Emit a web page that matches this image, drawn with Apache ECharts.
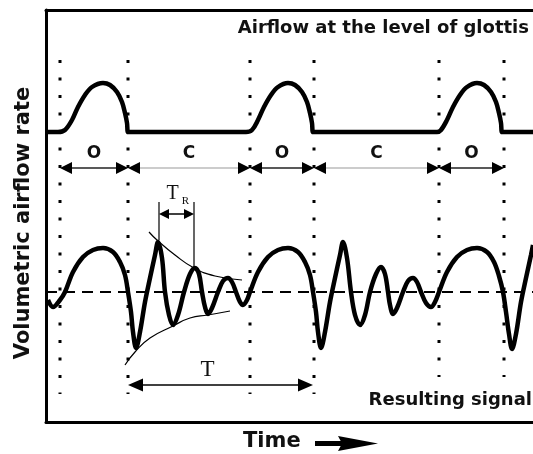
<!DOCTYPE html>
<html>
<head>
<meta charset="utf-8">
<script src="https://cdn.jsdelivr.net/npm/echarts@6/dist/echarts.min.js"></script>
<style>
  html, body { margin: 0; padding: 0; background: #fff; }
  #chart { width: 533px; height: 454px; }
</style>
</head>
<body>
<div id="chart"></div>
<script>
// time and amplitude in arbitrary units (schematic)
const glottalFlow = [
  [0, 290], [12, 290], [19, 292], [26, 302], [32, 315], [39, 327], [46, 335], [57, 339], [64, 337], [71, 330], [76, 320], [79, 309], [81, 299], [82, 290], [84, 290],
  [200, 290], [206, 292], [212, 302], [218, 315], [225, 327], [232, 335], [242, 339], [249, 337], [256, 330], [261, 320], [264, 309], [266, 299], [267, 290], [269, 290],
  [391, 290], [395, 292], [401, 302], [407, 315], [414, 327], [421, 335], [431, 339], [438, 337], [445, 330], [450, 320], [453, 309], [455, 299], [456, 290], [458, 290],
  [487, 290]
];

const resultingSignal = [
  [2, 122], [7, 115], [14, 122],
  [19, 130], [27, 150], [37, 165], [47, 172], [57, 174], [67, 170], [74, 160], [79, 147], [82, 130], [85, 110], [87, 90],
  [90, 74], [94, 90], [99, 120], [104, 144], [109, 167], [112, 180], [116, 164], [119, 130], [123, 107], [127, 97],
  [132, 107], [138, 130], [144, 148], [149, 154], [153, 148], [156, 130], [159, 115], [162, 108], [166, 114], [172, 130],
  [177, 141], [182, 144], [186, 140], [190, 130], [194, 120], [197, 117], [201, 122], [204, 130],
  [212, 150], [222, 165], [232, 172], [242, 174], [252, 170], [259, 160], [264, 147], [267, 130], [270, 110], [272, 90],
  [275, 74], [279, 90], [284, 120], [289, 144], [294, 167], [297, 180], [301, 164], [305, 130], [309, 107], [314, 97],
  [319, 107], [324, 130], [330, 148], [335, 155], [339, 148], [342, 130], [344, 117], [347, 108], [351, 114], [357, 130],
  [362, 141], [367, 144], [371, 140], [375, 130], [380, 119], [385, 115], [389, 120], [393, 130],
  [401, 150], [411, 165], [421, 172], [431, 174], [441, 170], [448, 160], [453, 146], [457, 130], [460, 110], [463, 88],
  [466, 73], [470, 88], [475, 120], [480, 144], [485, 167], [487, 177]
];

const baselineLevel = 130;
const envelopeUpper = [[103, 190], [111, 182], [129, 167], [148, 154], [169, 146], [196, 142]];
const envelopeLower = [[79, 57], [89, 70], [104, 84], [127, 96], [144, 104], [162, 107], [184, 111]];

const phaseEdges = [14, 82, 204, 268, 393, 458];
const phaseNames = ['O', 'C', 'O', 'C', 'O'];
const phaseArrowLevel = 254;
const phaseLabelLevel = 268;

const dotTop = 362;
const dotBottoms = [28, 28, 28, 28, 45, 45];

const trStart = 113, trEnd = 148;
const trTop = 220, trArrowLevel = 208;
const trPeaks = [182, 154];

const periodStart = 82, periodEnd = 267, periodLevel = 37, periodLabelLevel = 52;

const chart = echarts.init(document.getElementById('chart'));

function arrowShapes(p1, p2, len, half, color, width) {
  return [
    { type: 'line', shape: { x1: p1[0] + len * 0.5, y1: p1[1], x2: p2[0] - len * 0.5, y2: p2[1] },
      style: { stroke: color, lineWidth: width } },
    { type: 'polygon', shape: { points: [[p1[0], p1[1]], [p1[0] + len, p1[1] - half], [p1[0] + len, p1[1] + half]] },
      style: { fill: '#000' } },
    { type: 'polygon', shape: { points: [[p2[0], p2[1]], [p2[0] - len, p2[1] - half], [p2[0] - len, p2[1] + half]] },
      style: { fill: '#000' } }
  ];
}

const boldFont = '"DejaVu Sans", sans-serif';
const serifFont = '"Liberation Serif", "DejaVu Serif", serif';

const option = {
  animation: false,
  grid: { left: 46, right: 0, top: 10, bottom: 32 },
  title: [
    { text: 'Airflow at the level of glottis', right: 4, top: 19, padding: 0,
      textStyle: { fontFamily: boldFont, fontWeight: 'bold', fontSize: 18, color: '#111' } },
    { text: 'Resulting signal', right: 1, top: 391, padding: 0,
      textStyle: { fontFamily: boldFont, fontWeight: 'bold', fontSize: 18, color: '#111' } }
  ],
  xAxis: [
    { type: 'value', min: 0, max: 487, position: 'bottom',
      axisLine: { onZero: false, lineStyle: { color: '#000', width: 3 } },
      axisTick: { show: false }, axisLabel: { show: false }, splitLine: { show: false } },
    { type: 'value', min: 0, max: 487, position: 'top',
      axisLine: { onZero: false, lineStyle: { color: '#000', width: 3 } },
      axisTick: { show: false }, axisLabel: { show: false }, splitLine: { show: false } }
  ],
  yAxis: {
    type: 'value', min: 0, max: 412,
    name: 'Volumetric airflow rate', nameLocation: 'middle', nameGap: 12,
    nameTextStyle: { fontFamily: boldFont, fontWeight: 'bold', fontSize: 21, color: '#111', padding: [0, 14, 0, 0] },
    axisLine: { show: true, onZero: false, lineStyle: { color: '#000', width: 3 } },
    axisTick: { show: false }, axisLabel: { show: false }, splitLine: { show: false }
  },
  graphic: [
    { type: 'text', left: 243, top: 431,
      style: { text: 'Time', font: 'bold 21px ' + boldFont, fill: '#111' } },
    { type: 'rect', shape: { x: 315, y: 441, width: 28, height: 5 }, style: { fill: '#000' } },
    { type: 'polygon', shape: { points: [[338, 436], [378, 443.5], [338, 451], [342, 443.5]] }, style: { fill: '#000' } }
  ],
  series: [
    {
      type: 'custom', name: 'phase boundaries',
      data: phaseEdges.map((x, i) => [x, dotBottoms[i]]),
      renderItem: (params, api) => {
        const a = api.coord([api.value(0), dotTop]);
        const b = api.coord([api.value(0), api.value(1)]);
        return { type: 'line', shape: { x1: a[0], y1: a[1], x2: b[0], y2: b[1] },
          style: { stroke: '#000', lineWidth: 3, lineDash: [3, 14.5] } };
      }
    },
    {
      type: 'line', name: 'baseline', data: [[0, baselineLevel], [487, baselineLevel]],
      symbol: 'none', lineStyle: { color: '#000', width: 2, type: [11, 7] }
    },
    {
      type: 'line', name: 'glottal flow', data: glottalFlow, smooth: 0.35,
      symbol: 'none', lineStyle: { color: '#000', width: 4.5 }
    },
    {
      type: 'line', name: 'resulting signal', data: resultingSignal, smooth: 0.35,
      symbol: 'none', lineStyle: { color: '#000', width: 4.5 }
    },
    {
      type: 'line', name: 'upper envelope', data: envelopeUpper, smooth: 0.5,
      symbol: 'none', lineStyle: { color: '#000', width: 1.2 }
    },
    {
      type: 'line', name: 'lower envelope', data: envelopeLower, smooth: 0.5,
      symbol: 'none', lineStyle: { color: '#000', width: 1.2 }
    },
    {
      type: 'custom', name: 'phases',
      data: phaseNames.map((n, i) => [phaseEdges[i], phaseEdges[i + 1]]),
      renderItem: (params, api) => {
        const x1 = api.value(0), x2 = api.value(1);
        const p1 = api.coord([x1, phaseArrowLevel]);
        const p2 = api.coord([x2, phaseArrowLevel]);
        const lp = api.coord([(x1 + x2) / 2, phaseLabelLevel]);
        const name = phaseNames[params.dataIndex];
        const isOpen = name === 'O';
        const children = arrowShapes(p1, p2, 12, 6, isOpen ? '#222' : '#999', isOpen ? 1.5 : 1);
        children.push({ type: 'text', style: { text: name, x: lp[0], y: lp[1], align: 'center', verticalAlign: 'middle',
          font: 'bold 17px ' + boldFont, fill: '#111' } });
        return { type: 'group', children };
      }
    },
    {
      type: 'custom', name: 'TR',
      data: [[trStart, trEnd]],
      renderItem: (params, api) => {
        const x1 = api.value(0), x2 = api.value(1);
        const t1 = api.coord([x1, trTop]), b1 = api.coord([x1, trPeaks[0]]);
        const t2 = api.coord([x2, trTop]), b2 = api.coord([x2, trPeaks[1]]);
        const p1 = api.coord([x1, trArrowLevel]), p2 = api.coord([x2, trArrowLevel]);
        const tl = api.coord([(x1 + x2) / 2 - 4, trTop + 8]);
        const rl = api.coord([(x1 + x2) / 2 + 9, trTop + 1]);
        const children = [
          { type: 'line', shape: { x1: t1[0], y1: t1[1], x2: b1[0], y2: b1[1] }, style: { stroke: '#000', lineWidth: 1.2 } },
          { type: 'line', shape: { x1: t2[0], y1: t2[1], x2: b2[0], y2: b2[1] }, style: { stroke: '#000', lineWidth: 1.2 } }
        ].concat(arrowShapes(p1, p2, 10, 5, '#000', 1.5));
        children.push({ type: 'text', style: { text: 'T', x: tl[0], y: tl[1], align: 'center', verticalAlign: 'middle',
          font: '20px ' + serifFont, fill: '#111' } });
        children.push({ type: 'text', style: { text: 'R', x: rl[0], y: rl[1], align: 'center', verticalAlign: 'middle',
          font: '11px ' + serifFont, fill: '#111' } });
        return { type: 'group', children };
      }
    },
    {
      type: 'custom', name: 'period',
      data: [[periodStart, periodEnd]],
      renderItem: (params, api) => {
        const x1 = api.value(0), x2 = api.value(1);
        const p1 = api.coord([x1, periodLevel]), p2 = api.coord([x2, periodLevel]);
        const lp = api.coord([(x1 + x2) / 2 - 13, periodLabelLevel]);
        const children = arrowShapes(p1, p2, 15, 6.5, '#000', 1.5);
        children.push({ type: 'text', style: { text: 'T', x: lp[0], y: lp[1], align: 'center', verticalAlign: 'middle',
          font: '23px ' + serifFont, fill: '#111' } });
        return { type: 'group', children };
      }
    }
  ]
};

chart.setOption(option);
</script>
</body>
</html>
